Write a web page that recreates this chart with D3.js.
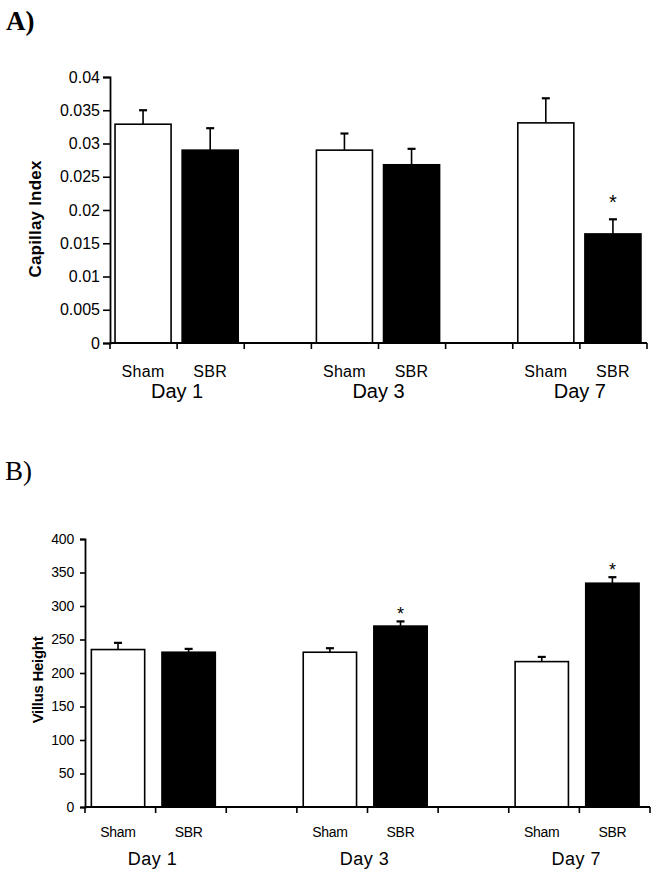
<!DOCTYPE html>
<html>
<head>
<meta charset="utf-8">
<script src="https://cdn.jsdelivr.net/npm/d3@7"></script>
<style>
  html, body { margin: 0; padding: 0; background: #fff; }
  svg { display: block; }
  text { font-family: "Liberation Sans", Arial, sans-serif; fill: #000; }
</style>
</head>
<body>
<svg id="chart" width="662" height="872"></svg>
<script>
// ---- Data ----
const days = ["Day 1", "Day 3", "Day 7"];
const groups = ["Sham", "SBR"];
const slots = ["Sham1", "SBR1", "gap1", "Sham3", "SBR3", "gap2", "Sham7", "SBR7"];

// Panel A: Capillary index
const capMean = [0.0329, 0.0290, 0.0290, 0.0268, 0.0331, 0.0164];
const capErr  = [0.0021, 0.0033, 0.0025, 0.0024, 0.0037, 0.0022];
const capSig  = [false, false, false, false, false, true];
const capTicks = [0, 0.005, 0.01, 0.015, 0.02, 0.025, 0.03, 0.035, 0.04];

// Panel B: Villus height
const vilMean = [235, 231, 231, 270, 217, 334];
const vilErr  = [10, 5, 6, 7, 7, 9];
const vilSig  = [false, false, false, true, false, true];
const vilTicks = [0, 50, 100, 150, 200, 250, 300, 350, 400];

const barSlots = ["Sham1", "SBR1", "Sham3", "SBR3", "Sham7", "SBR7"];
const barGroup = ["Sham", "SBR", "Sham", "SBR", "Sham", "SBR"];
const daySlotCenter = [1, 4, 7]; // tick index between Sham and SBR of each day

const svg = d3.select("#chart");

function panel(cfg) {
  const g = svg.append("g");
  const x = d3.scaleBand().domain(slots).range([cfg.x0, cfg.x1]).padding(0);
  const y = d3.scaleLinear().domain([0, cfg.yMax]).range([cfg.yBottom, cfg.yTop]);
  const bw = x.bandwidth();
  const data = barSlots.map((s, i) => ({
    slot: s, grp: barGroup[i], v: cfg.mean[i], e: cfg.err[i], sig: cfg.sig[i]
  }));

  // bars
  g.selectAll("rect.bar").data(data).enter().append("rect")
    .attr("x", d => x(d.slot) + bw * cfg.inset)
    .attr("width", bw * cfg.barFrac)
    .attr("y", d => y(d.v))
    .attr("height", d => y(0) - y(d.v))
    .attr("fill", d => d.grp === "Sham" ? "#fff" : "#000")
    .attr("stroke", "#000")
    .attr("stroke-width", 1.6);

  // error bars (upward only)
  const cx = d => x(d.slot) + bw * cfg.inset + bw * cfg.barFrac / 2;
  g.selectAll("line.err").data(data).enter().append("line")
    .attr("x1", cx).attr("x2", cx)
    .attr("y1", d => y(d.v)).attr("y2", d => y(d.v + d.e))
    .attr("stroke", "#000").attr("stroke-width", 1.6);
  g.selectAll("line.cap").data(data).enter().append("line")
    .attr("x1", d => cx(d) - cfg.cap / 2).attr("x2", d => cx(d) + cfg.cap / 2)
    .attr("y1", d => y(d.v + d.e)).attr("y2", d => y(d.v + d.e))
    .attr("stroke", "#000").attr("stroke-width", 2.2);

  // significance asterisks
  g.selectAll("text.sig").data(data.filter(d => d.sig)).enter().append("text")
    .attr("x", cx).attr("y", d => y(d.v + d.e) - cfg.starGap)
    .attr("text-anchor", "middle")
    .style("font-size", cfg.starFont)
    .text("*");

  // y axis
  const yAxis = d3.axisLeft(y).tickValues(cfg.ticks).tickSize(cfg.tickSize).tickPadding(cfg.tickPad)
    .tickFormat(cfg.fmt);
  const ya = g.append("g").attr("transform", `translate(${cfg.x0},0)`).call(yAxis);
  ya.select(".domain").attr("stroke", "#000").attr("stroke-width", 1.8);
  ya.selectAll(".tick line").attr("stroke", "#000").attr("stroke-width", 1.6);
  ya.selectAll(".tick text").style("font-size", cfg.tickFont).style("font-family", "'Liberation Sans', Arial, sans-serif")
    .style("letter-spacing", cfg.tickLS);

  // x axis: ticks at slot boundaries
  const bounds = slots.map(s => x(s)).concat([cfg.x1]);
  g.append("line").attr("x1", cfg.x0).attr("x2", cfg.x1)
    .attr("y1", y(0)).attr("y2", y(0)).attr("stroke", "#000").attr("stroke-width", 1.8);
  g.selectAll("line.xt").data(bounds).enter().append("line")
    .attr("x1", d => d).attr("x2", d => d)
    .attr("y1", y(0)).attr("y2", y(0) + 6)
    .attr("stroke", "#000").attr("stroke-width", 1.6);

  // group labels
  g.selectAll("text.grp").data(data).enter().append("text")
    .attr("x", cx).attr("y", y(0) + cfg.grpDy)
    .attr("text-anchor", "middle")
    .style("font-size", cfg.grpFont)
    .style("letter-spacing", cfg.grpLS)
    .text(d => d.grp);

  // day labels
  g.selectAll("text.day").data(days).enter().append("text")
    .attr("x", (d, i) => bounds[daySlotCenter[i]] + cfg.dayDx)
    .attr("y", y(0) + cfg.dayDy)
    .attr("text-anchor", "middle")
    .style("font-size", cfg.dayFont)
    .style("letter-spacing", cfg.dayLS)
    .text(d => d);

  // y label
  g.append("text")
    .attr("transform", `translate(${cfg.ylabX},${cfg.ylabY}) rotate(-90)`)
    .attr("text-anchor", "middle")
    .style("font-size", cfg.ylabFont)
    .style("font-weight", "bold")
    .style("letter-spacing", cfg.ylabLS)
    .text(cfg.ylabel);

  // panel letter
  g.append("text")
    .attr("x", cfg.letterX).attr("y", cfg.letterY)
    .style("font-family", "'Liberation Serif', 'Times New Roman', serif")
    .style("font-size", "27px")
    .style("font-weight", cfg.letterWeight)
    .text(cfg.letter);
}

panel({
  x0: 110, x1: 647, yTop: 77, yBottom: 343, yMax: 0.04,
  mean: capMean, err: capErr, sig: capSig, ticks: capTicks,
  fmt: d => String(+d.toFixed(3)),
  inset: 0.075, barFrac: 0.835, cap: 8, starGap: 10, starFont: "20px",
  tickFont: "16px", tickLS: "0px", tickSize: 7, tickPad: 3,
  grpDy: 34, grpFont: "16px", grpLS: "0.3px",
  dayDy: 55, dayDx: 0, dayFont: "20px", dayLS: "0px",
  ylabX: 41, ylabY: 219, ylabFont: "17px", ylabLS: "0.2px", ylabel: "Capillay Index",
  letter: "A)", letterX: 6, letterY: 30, letterWeight: "bold"
});

panel({
  x0: 85, x1: 650, yTop: 539, yBottom: 807, yMax: 400,
  mean: vilMean, err: vilErr, sig: vilSig, ticks: vilTicks,
  fmt: d => String(d),
  inset: 0.09, barFrac: 0.755, cap: 8, starGap: 1.5, starFont: "18px",
  tickFont: "14px", tickLS: "-0.2px", tickSize: 5, tickPad: 6,
  grpDy: 30, grpFont: "14px", grpLS: "-0.3px",
  dayDy: 58, dayDx: -3, dayFont: "18px", dayLS: "0.5px",
  ylabX: 43, ylabY: 680, ylabFont: "15px", ylabLS: "-0.3px", ylabel: "Villus Height",
  letter: "B)", letterX: 5, letterY: 480, letterWeight: "normal"
});
</script>
</body>
</html>
